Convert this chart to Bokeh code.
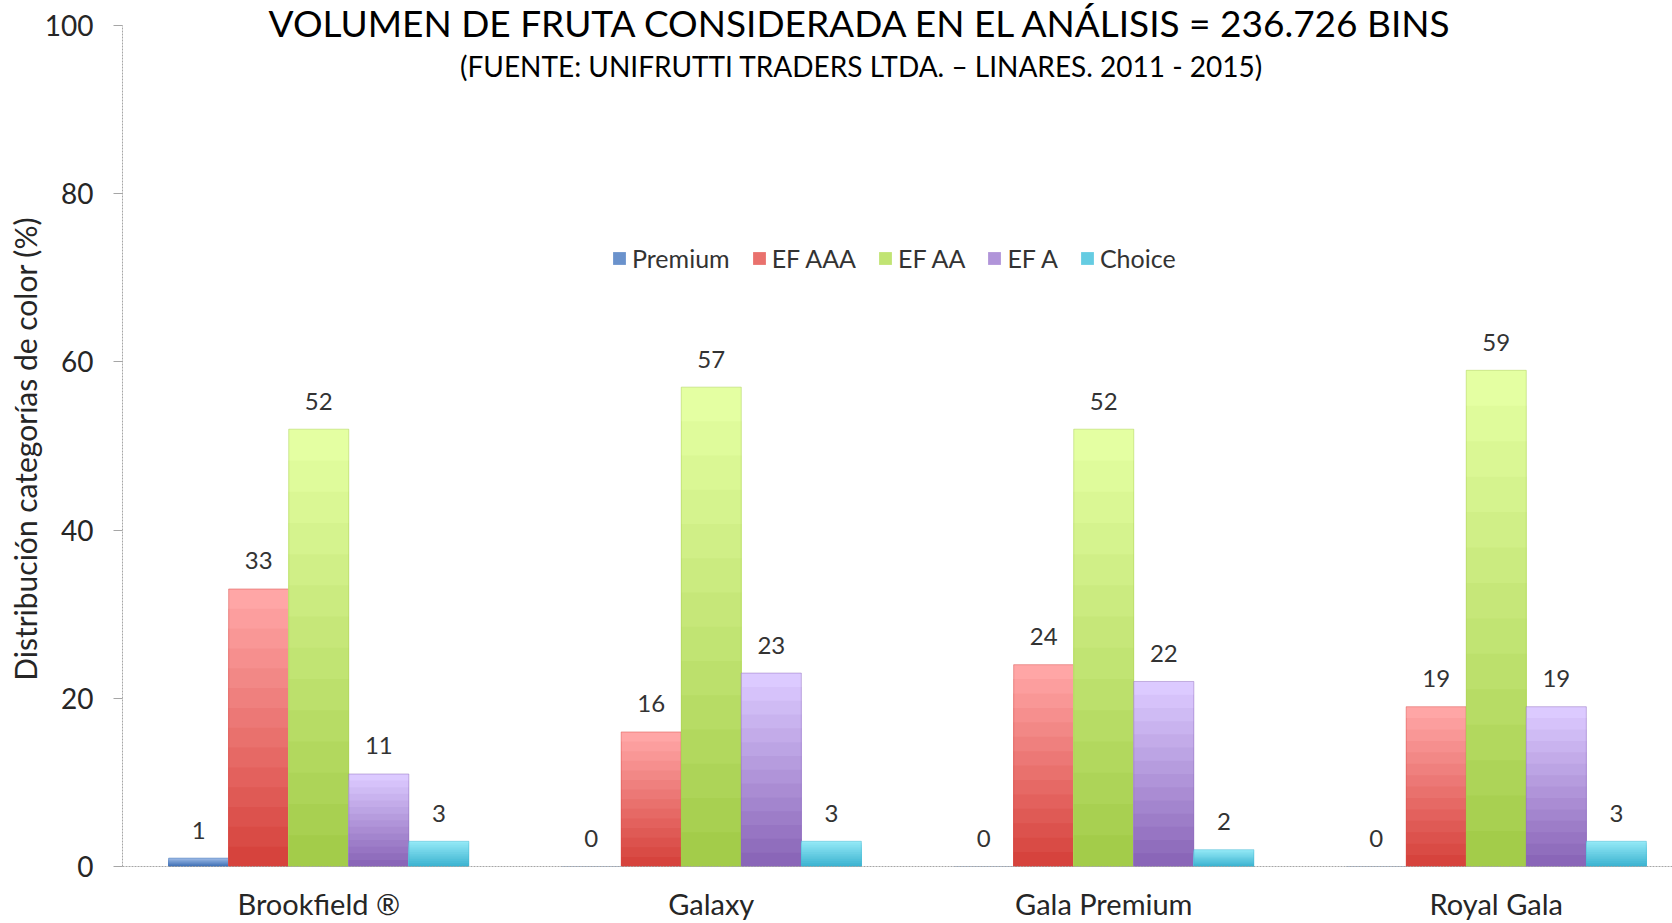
from bokeh.plotting import figure
from bokeh.models import Range1d, FixedTicker, Label, Legend, LegendItem, ColumnDataSource
from bokeh.core.properties import value
from bokeh.embed import file_html
from bokeh.resources import INLINE

categories = ["Brookfield ®", "Galaxy", "Gala Premium", "Royal Gala"]
series = ["Premium", "EF AAA", "EF AA", "EF A", "Choice"]
premium = [1, 0, 0, 0]
ef_aaa = [33, 16, 24, 19]
ef_aa = [52, 57, 52, 59]
ef_a = [11, 23, 22, 19]
choice = [3, 3, 2, 3]
values = [premium, ef_aaa, ef_aa, ef_a, choice]
y_ticks = [0, 20, 40, 60, 80, 100]

top_colors = ["#9DBBE6", "#FFA6A6", "#E4FFA2", "#DCCAFF", "#92E8F6"]
bot_colors = ["#3F6FB5", "#D6433D", "#A3CC4A", "#8A66B8", "#3EB4D1"]

FONT = "Lato"
W, H = 1672, 923
LEFT, BOTTOM = 122, 57
AXIS_TOP = 25  # pixel row of the 100 tick
px_per_cat = 392.5
frame_w = W - LEFT
frame_h = H - BOTTOM
ppu = (frame_h - AXIS_TOP) / 100.0

def ydata(img_y):
    return (frame_h - img_y) / ppu

p = figure(width=W, height=H, output_backend="svg", toolbar_location=None,
           x_range=Range1d(0, frame_w / px_per_cat), y_range=Range1d(0, frame_h / ppu),
           min_border_left=LEFT, min_border_right=0, min_border_top=0,
           min_border_bottom=BOTTOM)
p.outline_line_color = None
p.xgrid.visible = False
p.ygrid.visible = False
p.background_fill_color = "white"

bw = 0.153
centers = [i + 0.5 for i in range(len(categories))]

def lerp(c1, c2, t):
    a = [int(c1[i:i + 2], 16) for i in (1, 3, 5)]
    b = [int(c2[i:i + 2], 16) for i in (1, 3, 5)]
    return "#%02x%02x%02x" % tuple(int(round(a[j] + (b[j] - a[j]) * t)) for j in range(3))

N = 14
legend_items = []
for s, name in enumerate(series):
    xs = [c + (s - 2) * bw for c in centers]
    vals = values[s]
    legend_r = None
    for k in range(N):
        frac = 1 - k / N
        col = lerp(top_colors[s], bot_colors[s], k / (N - 1))
        r = p.vbar(x=xs, top=[v * frac for v in vals], bottom=0, width=bw,
                   fill_color=col, line_color=None)
        if k == N // 2:
            legend_r = r
    p.vbar(x=xs, top=vals, bottom=0, width=bw, fill_color=None,
           line_color=bot_colors[s], line_alpha=0.45, line_width=1)
    legend_items.append(LegendItem(label=name, renderers=[legend_r]))
    src = ColumnDataSource(dict(x=xs, y=vals, t=[str(v) for v in vals]))
    p.text(x="x", y="y", text="t", source=src, text_align="center",
           text_baseline="middle", y_offset=-28, text_font=value(FONT),
           text_font_size="24px", text_color="#333333")

legend = Legend(items=legend_items, orientation="horizontal",
                location=(489, 593), glyph_width=16, glyph_height=16,
                label_standoff=5, spacing=21, padding=0, margin=0,
                border_line_color=None, background_fill_alpha=0,
                label_text_font=FONT, label_text_font_size="25px",
                label_text_color="#333333")
p.add_layout(legend, "center")

# axes
p.yaxis.ticker = FixedTicker(ticks=y_ticks)
p.yaxis.bounds = (0, 100)
p.yaxis.axis_label = "Distribución categorías de color (%)" + "\u00a0" * 4
p.yaxis.axis_label_text_font = FONT
p.yaxis.axis_label_text_font_style = "normal"
p.yaxis.axis_label_text_font_size = "30px"
p.yaxis.axis_label_text_color = "#262626"
p.yaxis.axis_label_standoff = -1
p.yaxis.major_label_text_font = FONT
p.yaxis.major_label_text_font_size = "28px"
p.yaxis.major_label_text_color = "#262626"
p.yaxis.major_label_standoff = 20
p.yaxis.axis_line_color = "#A6A6A6"
p.yaxis.axis_line_dash = "2 1"
p.yaxis.major_tick_line_color = "#A6A6A6"
p.yaxis.major_tick_out = 9
p.yaxis.major_tick_in = 0
p.yaxis.minor_tick_line_color = None

p.xaxis.ticker = FixedTicker(ticks=centers)
p.xaxis.major_label_overrides = {c: lab for c, lab in zip(centers, categories)}
p.xaxis.major_label_text_font = FONT
p.xaxis.major_label_text_font_size = "29px"
p.xaxis.major_label_text_color = "#262626"
p.xaxis.major_label_standoff = 13
p.xaxis.axis_line_color = "#A6A6A6"
p.xaxis.axis_line_dash = "2 1"
p.xaxis.major_tick_line_color = None
p.xaxis.minor_tick_line_color = None

title_x = (861 - LEFT) / px_per_cat
p.add_layout(Label(x=title_x, y=ydata(22),
                   text="VOLUMEN DE FRUTA CONSIDERADA EN EL ANÁLISIS = 236.726 BINS",
                   text_align="center", text_baseline="alphabetic",
                   text_font=FONT, text_font_size="37px", text_color="#000000"))
p.add_layout(Label(x=title_x, y=ydata(65),
                   text="(FUENTE: UNIFRUTTI TRADERS LTDA. – LINARES. 2011 - 2015)",
                   text_align="center", text_baseline="alphabetic",
                   text_font=FONT, text_font_size="28px", text_color="#000000"))

open("out.html", "w").write(file_html(p, INLINE))
